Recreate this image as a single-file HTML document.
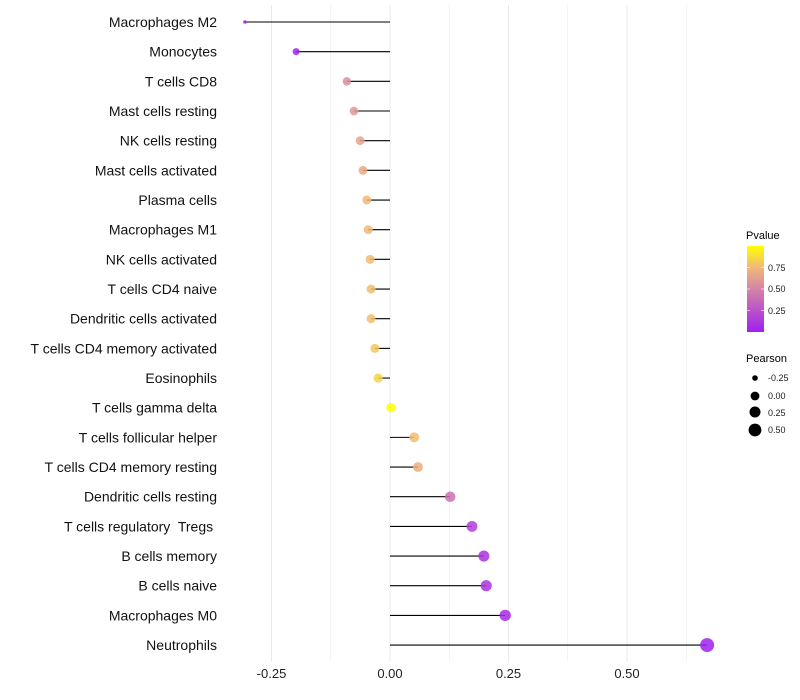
<!DOCTYPE html>
<html><head><meta charset="utf-8"><style>
html,body{margin:0;padding:0;background:#fff;}
svg{display:block;font-family:"Liberation Sans",sans-serif;}
text{white-space:pre;}
</style></head><body>
<svg id="chart" width="800" height="700">
<defs><linearGradient id="pgrad" x1="0" y1="1" x2="0" y2="0">
<stop offset="0" stop-color="#a020f0"/><stop offset="0.5" stop-color="#d484a6"/><stop offset="0.75" stop-color="#f0b878"/><stop offset="1" stop-color="#ffff00"/>
</linearGradient></defs>
<g id="grid"></g><g id="marks"></g><g id="labels"></g>
<g>
<text x="746" y="239" font-size="11" fill="#000">Pvalue</text>
<rect x="747" y="246" width="17" height="86" fill="url(#pgrad)"/>
<g stroke="#fff" stroke-opacity="0.6"><line x1="747" y1="267.5" x2="750" y2="267.5"/><line x1="761" y1="267.5" x2="764" y2="267.5"/><line x1="747" y1="289" x2="750" y2="289"/><line x1="761" y1="289" x2="764" y2="289"/><line x1="747" y1="310.5" x2="750" y2="310.5"/><line x1="761" y1="310.5" x2="764" y2="310.5"/></g>
<text x="768" y="271" font-size="9" fill="#222">0.75</text>
<text x="768" y="292" font-size="9" fill="#222">0.50</text>
<text x="768" y="314" font-size="9" fill="#222">0.25</text>
</g>
<g>
<text x="746" y="362" font-size="11" fill="#000">Pearson</text>
<circle cx="755" cy="378" r="2.8"/><text x="768" y="381" font-size="9" fill="#222">-0.25</text>
<circle cx="755" cy="396" r="4.4"/><text x="768" y="399" font-size="9" fill="#222">0.00</text>
<circle cx="755" cy="412" r="5.5"/><text x="768" y="416" font-size="9" fill="#222">0.25</text>
<circle cx="755" cy="430" r="6.4"/><text x="768" y="433" font-size="9" fill="#222">0.50</text>
</g>
</svg>
<script>
const categories=["Macrophages M2","Monocytes","T cells CD8","Mast cells resting","NK cells resting","Mast cells activated","Plasma cells","Macrophages M1","NK cells activated","T cells CD4 naive","Dendritic cells activated","T cells CD4 memory activated","Eosinophils","T cells gamma delta","T cells follicular helper","T cells CD4 memory resting","Dendritic cells resting","T cells regulatory  Tregs ","B cells memory","B cells naive","Macrophages M0","Neutrophils"];
const pearson=[-0.306,-0.198,-0.091,-0.076,-0.063,-0.057,-0.049,-0.046,-0.042,-0.040,-0.040,-0.032,-0.025,0.002,0.051,0.059,0.127,0.173,0.198,0.203,0.243,0.669];
const pvalues=[0.0,0.02,0.55,0.6,0.65,0.68,0.75,0.75,0.76,0.77,0.77,0.8,0.85,1.0,0.77,0.7,0.4,0.15,0.1,0.1,0.05,0.0];
const xTicks=[-0.25,0,0.25,0.5];
const xTickLabels=["-0.25","0.00","0.25","0.50"];
const NS="http://www.w3.org/2000/svg";
const x=v=>390+v*474;
const y=i=>22+i*29.67;
const r=v=>1.8+5.2*Math.sqrt(Math.max(0,(v+0.306)/0.975));
function lerp(a,b,t){return a.map((c,i)=>Math.round(c+(b[i]-c)*t));}
const stops=[[0,[160,32,240]],[0.5,[212,132,166]],[0.75,[240,184,120]],[1,[255,255,0]]];
function col(p){for(let k=1;k<stops.length;k++){if(p<=stops[k][0]){const t=(p-stops[k-1][0])/(stops[k][0]-stops[k-1][0]);return "rgb("+lerp(stops[k-1][1],stops[k][1],t).join(",")+")";}}return "rgb(255,255,0)";}
function mk(tag,attrs,parent){const e=document.createElementNS(NS,tag);for(const k in attrs)e.setAttribute(k,attrs[k]);parent.appendChild(e);return e;}
const grid=document.getElementById('grid'),marks=document.getElementById('marks'),labels=document.getElementById('labels');
for(let v=-0.25;v<=0.626;v+=0.125){
  const l=mk('line',{x1:x(v),x2:x(v),y1:5,y2:662,stroke:'#ebebeb','stroke-width':(Math.abs(v/0.25-Math.round(v/0.25))<1e-6)?1:0.6},grid);
  
  
}
xTicks.forEach((v,i)=>{
  const t=mk('text',{x:x(v),y:678,'font-size':13,'text-anchor':'middle',fill:'#222'},labels);
  t.textContent=xTickLabels[i];
  
  
});
categories.forEach((c,i)=>{
  const t=mk('text',{x:217,y:y(i)+5,'font-size':14,'text-anchor':'end',fill:'#111'},labels);
  t.textContent=c;
  
  
  const s=mk('line',{x1:x(0),x2:x(pearson[i]),y1:y(i),y2:y(i),stroke:'#000','stroke-width':1.1},marks);
  
  
  const d=mk('circle',{cx:x(pearson[i]),cy:y(i),r:r(pearson[i]),fill:col(pvalues[i]),'fill-opacity':0.85},marks);
  
  
});
</script>
</body></html>
